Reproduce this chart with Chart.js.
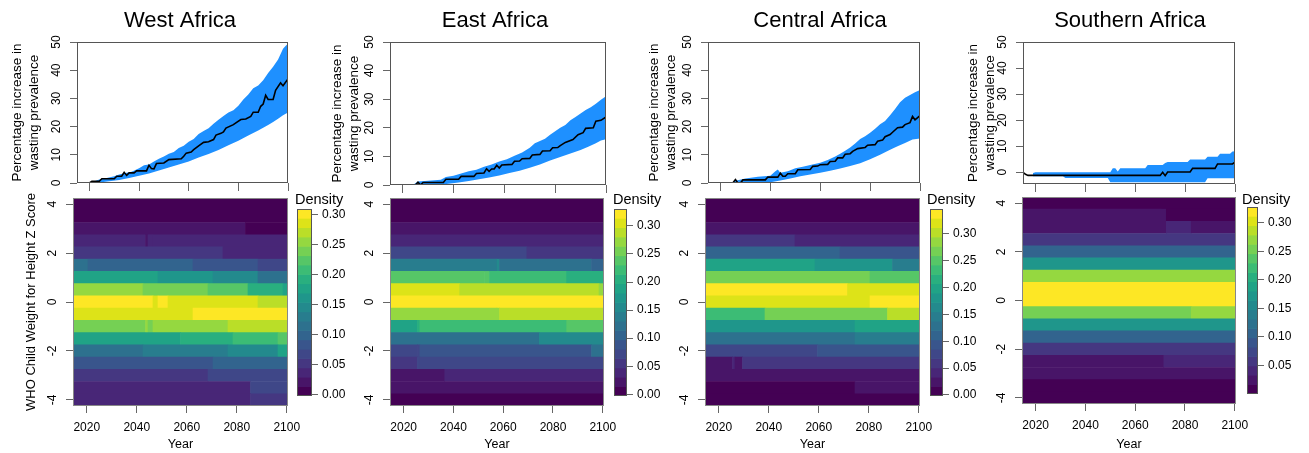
<!DOCTYPE html>
<html lang="en">
<head>
  <meta charset="UTF-8" />
  <title>Wasting prevalence and WHZ density by African region</title>
  <script src="https://cdn.jsdelivr.net/npm/chart.js"></script>
  <style>
    body { margin: 0; background: #fff; }
    #wrap { position: relative; width: 1309px; height: 453px; overflow: hidden; }
    #wrap canvas { position: absolute; }
  </style>
</head>
<body>
  <div id="wrap"></div>

  <script>
    // ---------- data ----------
    const regions = ['West Africa', 'East Africa', 'Central Africa', 'Southern Africa'];
    const yearTicks = [2020, 2040, 2060, 2080, 2100];
    const pctTicks = [0, 10, 20, 30, 40, 50];
    const zTicks = [-4, -2, 0, 2, 4];
    const zRows = [4, 3.5, 3, 2.5, 2, 1.5, 1, 0.5, 0, -0.5, -1, -1.5, -2, -2.5, -3, -3.5, -4];
    const heatYears = [2015, 2100];

    // percentage increase in wasting prevalence: [year, value]
    const westMid = [[2015,0],[2020,0],[2021,0.6],[2024,0.6],[2025,1.5],[2030,1.5],[2031,2.4],[2033,2.4],[2034,3.8],[2035,2.7],[2036,3.6],[2038,3.6],[2039,4.3],[2043,4.3],[2044,6.3],[2045,5.1],[2046,5.0],[2047,6.9],[2050,7.1],[2052,8.3],[2057,8.6],[2058,9.5],[2059,10.6],[2061,11.0],[2062,11.8],[2064,13.2],[2066,14.4],[2068,14.6],[2070,15.4],[2071,17.0],[2073,17.6],[2074,18.1],[2075,19.5],[2078,20.7],[2079,21.3],[2081,22.5],[2083,22.7],[2085,23.6],[2086,25.1],[2088,25.1],[2089,27.2],[2090,28.0],[2091,31.1],[2092,29.6],[2094,29.6],[2095,32.9],[2097,35.5],[2098,34.5],[2100,36.9]];
    const westHigh = [[2020,0],[2022,0.6],[2024,1.2],[2027,1.8],[2030,2.4],[2032,3.0],[2035,3.6],[2037,4.0],[2040,5.2],[2042,6.3],[2044,6.6],[2046,7.6],[2048,8.6],[2050,9.4],[2052,10.4],[2054,11.0],[2056,12.4],[2058,13.2],[2060,14.6],[2062,15.6],[2064,17.4],[2066,18.4],[2068,19.4],[2070,21.0],[2072,22.4],[2074,23.8],[2076,25.0],[2078,25.8],[2080,27.4],[2082,29.6],[2084,31.4],[2086,33.6],[2088,34.6],[2090,36.4],[2092,39.0],[2094,41.2],[2096,43.8],[2098,47.6],[2099,48.6],[2100,49.4]];
    const westLow = [[2020,0],[2024,0.2],[2028,0.6],[2032,1.1],[2036,1.8],[2040,2.6],[2044,3.4],[2048,4.4],[2052,5.5],[2056,6.6],[2060,7.6],[2064,9.0],[2068,10.3],[2072,11.7],[2076,13.4],[2080,15.0],[2084,16.8],[2088,18.6],[2090,19.6],[2092,20.6],[2094,21.6],[2096,22.8],[2098,24.0],[2100,25.0]];

    const eastMid = [[2015,0],[2025,0],[2026,1.0],[2027,0],[2028,0.9],[2036,0.9],[2037,2.0],[2042,2.0],[2043,3.0],[2048,3.0],[2049,4.0],[2052,4.2],[2053,5.7],[2054,4.8],[2055,5.6],[2056,5.6],[2057,6.9],[2058,5.9],[2059,7.0],[2063,7.2],[2064,8.3],[2066,8.4],[2067,9.2],[2070,9.3],[2071,10.5],[2074,10.7],[2075,11.9],[2078,12.0],[2079,13.0],[2081,13.1],[2082,13.8],[2084,14.9],[2087,15.9],[2089,17.6],[2091,18.3],[2092,19.8],[2095,20.0],[2096,22.3],[2098,22.6],[2100,23.8]];
    const eastHigh = [[2024,0],[2026,1.2],[2030,1.5],[2035,1.8],[2037,2.8],[2040,3.2],[2043,4.0],[2046,4.8],[2049,5.3],[2052,6.4],[2055,7.2],[2058,8.2],[2061,9.0],[2064,10.2],[2067,11.4],[2070,13.0],[2072,14.6],[2074,15.4],[2076,16.2],[2078,17.6],[2080,18.8],[2082,20.0],[2084,21.0],[2086,22.6],[2088,23.8],[2090,25.0],[2092,26.2],[2094,27.2],[2096,28.4],[2098,29.8],[2100,31.0]];
    const eastLow = [[2024,0],[2034,0],[2038,0.4],[2042,0.9],[2046,1.4],[2050,2.0],[2054,2.6],[2058,3.3],[2062,4.2],[2066,5.0],[2070,6.0],[2074,7.2],[2078,8.6],[2082,9.8],[2086,11.0],[2090,12.2],[2093,13.4],[2096,14.6],[2098,15.6],[2100,16.0]];

    const centralMid = [[2015,0],[2024,0],[2025,0.1],[2026,1.2],[2027,0],[2028,0],[2029,1.1],[2038,1.1],[2039,2.1],[2043,2.1],[2044,3.5],[2045,2.4],[2046,2.4],[2047,3.3],[2050,3.3],[2051,4.7],[2056,4.8],[2057,5.9],[2059,6.0],[2060,6.5],[2063,6.6],[2064,7.6],[2066,7.7],[2067,8.9],[2069,8.9],[2070,10.2],[2072,10.4],[2073,11.2],[2075,12.2],[2078,12.6],[2079,13.4],[2082,13.6],[2083,14.8],[2085,15.2],[2086,16.4],[2088,17.2],[2089,18.0],[2091,19.6],[2093,19.8],[2094,20.7],[2096,21.4],[2097,23.6],[2098,22.4],[2100,23.9]];
    const centralHigh = [[2024,0],[2026,0.8],[2030,1.6],[2035,2.2],[2040,2.6],[2042,4.2],[2043,4.8],[2044,3.6],[2047,4.2],[2050,5.2],[2053,5.8],[2056,6.4],[2060,7.2],[2063,8.2],[2066,9.4],[2068,10.4],[2070,11.4],[2072,12.6],[2074,14.0],[2076,15.6],[2078,16.6],[2080,17.8],[2082,19.2],[2084,20.8],[2086,22.0],[2088,24.0],[2090,26.2],[2092,28.6],[2094,30.2],[2096,31.2],[2098,32.2],[2100,33.0]];
    const centralLow = [[2024,0],[2036,0],[2040,0.3],[2044,0.9],[2048,1.6],[2052,2.4],[2056,3.0],[2060,3.6],[2064,4.3],[2068,5.1],[2072,6.0],[2076,7.0],[2080,8.4],[2084,10.0],[2088,11.8],[2091,13.0],[2094,14.2],[2097,15.4],[2100,15.8]];

    const southMid = [[2015,0],[2016,-0.8],[2017,-1.2],[2070,-1.2],[2071,0],[2072,-1.3],[2073,0.1],[2082,0.1],[2083,1.5],[2092,1.5],[2093,3.2],[2099,3.2],[2100,3.9]];
    const southHigh = [[2019,-0.3],[2020,0],[2050,0],[2051,1.5],[2052,1.5],[2053,0.3],[2054,1.5],[2064,1.5],[2065,2.8],[2071,2.8],[2072,3.6],[2073,3.9],[2081,3.9],[2082,4.9],[2088,4.9],[2089,6.0],[2093,6.0],[2094,7.1],[2098,7.1],[2099,8.0],[2100,8.1]];
    const southLow = [[2019,-1.5],[2031,-1.5],[2032,-2.2],[2049,-2.2],[2050,-3.8],[2088,-3.8],[2089,-2.3],[2100,-2.3]];

    const pctMin = [0, 0, 0, -4.5];

    // density of WHZ, one list per row of zRows: [first year, density]
    const westHeat = [
      [[2015,.008]],
      [[2015,.010]],
      [[2015,.023],[2084,.008]],
      [[2015,.039],[2044,.027],[2045,.039],[2047,.030]],
      [[2015,.054],[2075,.039]],
      [[2015,.116],[2021,.101],[2063,.085],[2089,.070]],
      [[2015,.178],[2049,.163],[2071,.150],[2089,.120]],
      [[2015,.256],[2043,.240],[2069,.225],[2085,.194],[2099,.178]],
      [[2015,.302],[2047,.287],[2049,.302],[2053,.287],[2089,.271]],
      [[2015,.287],[2063,.302]],
      [[2015,.240],[2044,.256],[2045,.240],[2047,.256],[2077,.271]],
      [[2015,.178],[2058,.194],[2079,.209],[2097,.225]],
      [[2015,.120],[2043,.132],[2077,.150],[2097,.178]],
      [[2015,.085],[2071,.101]],
      [[2015,.054],[2069,.070]],
      [[2015,.039],[2086,.060]],
      [[2015,.030],[2086,.054]]
    ];
    const eastHeat = [
      [[2015,.008]],
      [[2015,.010]],
      [[2015,.025]],
      [[2015,.041]],
      [[2015,.074],[2070,.058]],
      [[2015,.140],[2058,.150],[2059,.124],[2096,.107]],
      [[2015,.239],[2053,.231],[2055,.223],[2086,.206]],
      [[2015,.305],[2043,.289],[2099,.272]],
      [[2015,.322]],
      [[2015,.272],[2058,.280],[2059,.289]],
      [[2015,.190],[2026,.206],[2027,.223],[2086,.239]],
      [[2015,.124],[2075,.150]],
      [[2015,.074],[2026,.078],[2027,.091],[2096,.124]],
      [[2015,.058],[2026,.066],[2027,.074]],
      [[2015,.025],[2037,.041]],
      [[2015,.025]],
      [[2015,.008]]
    ];
    const centralHeat = [
      [[2015,.009]],
      [[2015,.012]],
      [[2015,.026]],
      [[2015,.060],[2051,.043]],
      [[2015,.112],[2069,.095]],
      [[2015,.198],[2059,.181],[2090,.150]],
      [[2015,.267],[2081,.250]],
      [[2015,.336],[2072,.319]],
      [[2015,.319],[2081,.336]],
      [[2015,.240],[2039,.267],[2088,.295]],
      [[2015,.181],[2075,.198]],
      [[2015,.129],[2075,.147]],
      [[2015,.078],[2060,.095]],
      [[2015,.026],[2026,.043],[2027,.026],[2030,.055]],
      [[2015,.026]],
      [[2015,.009],[2075,.026]],
      [[2015,.009]]
    ];
    const southHeat = [
      [[2015,.008]],
      [[2015,.027],[2071,.020],[2073,.008]],
      [[2015,.027],[2073,.044],[2083,.030]],
      [[2015,.060]],
      [[2015,.109]],
      [[2015,.174]],
      [[2015,.271]],
      [[2015,.320]],
      [[2015,.320]],
      [[2015,.255],[2083,.271]],
      [[2015,.174]],
      [[2015,.109]],
      [[2015,.060]],
      [[2015,.027],[2072,.044]],
      [[2015,.027]],
      [[2015,.011]],
      [[2015,.011]]
    ];

    // colour key range and ticks
    const westLim = [-0.003, 0.309];
    const eastLim = [-0.003, 0.330];
    const centralLim = [-0.002, 0.346];
    const southLim = [0, 0.328];
    const densTicks = [0, 0.05, 0.10, 0.15, 0.20, 0.25, 0.30];
    const densTicksSouth = [0.05, 0.10, 0.15, 0.20, 0.25, 0.30];

    const viridis = ['#440154', '#481568', '#482677', '#453781', '#3F4788', '#39558C', '#32648E', '#2D718E', '#287D8E', '#238A8D',
                     '#1F968B', '#20A386', '#29AF7F', '#3CBC75', '#56C667', '#75D054', '#95D840', '#BADE28', '#DDE318', '#FDE725'];

    // ---------- page layout (pixel boxes: left, right, top, bottom) ----------
    const layout = [
      { cx: 180,  yt: 0,   top: [77, 288, 42, 183],    heat: [73, 288, 198, 406],    bar: [297, 312, 209, 396],    dens: 295 },
      { cx: 495,  yt: 320, top: [390, 606, 42, 185],   heat: [390, 604, 198, 406],   bar: [614, 627, 209, 396],    dens: 613 },
      { cx: 820,  yt: 637, top: [708, 920, 42, 183],   heat: [705, 920, 198, 406],   bar: [930, 943, 209, 396],    dens: 927 },
      { cx: 1130, yt: 956, top: [1023, 1235, 42, 184], heat: [1022, 1236, 197, 404], bar: [1247, 1258, 207, 394],  dens: 1242 }
    ];

    const FONT = "'Liberation Sans', Arial, Helvetica, sans-serif";
    const GREY = '#666';
    Chart.defaults.font.family = FONT;
    Chart.defaults.color = '#000';

    const wrap = document.getElementById('wrap');
    function canvasAt(x, y, w, h) {
      const c = document.createElement('canvas');
      c.width = w;
      c.height = h;
      c.style.left = x + 'px';
      c.style.top = y + 'px';
      c.style.width = w + 'px';
      c.style.height = h + 'px';
      wrap.appendChild(c);
      return c;
    }

    const fixTicks = vals => scale => { scale.ticks = vals.map(v => ({ value: v })); };

    function colorOf(d, lim) {
      const k = Math.floor((d - lim[0]) / (lim[1] - lim[0]) * viridis.length);
      return viridis[Math.max(0, Math.min(viridis.length - 1, k))];
    }

    // box round the plot region
    const frame = {
      id: 'frame',
      afterDraw(chart, args, opts) {
        const { ctx, chartArea: a } = chart;
        ctx.save();
        ctx.strokeStyle = opts.color || GREY;
        ctx.lineWidth = 1;
        ctx.strokeRect(Math.round(a.left) + 0.5, Math.round(a.top) + 0.5, Math.round(a.width) - 1, Math.round(a.height) - 1);
        ctx.restore();
      }
    };

    // y tick labels written along the axis, as R does
    const rotY = {
      id: 'rotY',
      afterDraw(chart, args, opts) {
        const s = chart.scales.y;
        const ctx = chart.ctx;
        ctx.save();
        ctx.fillStyle = '#000';
        ctx.font = '12px ' + FONT;
        ctx.textAlign = 'center';
        ctx.textBaseline = 'middle';
        s.ticks.forEach(t => {
          ctx.save();
          ctx.translate(chart.chartArea.left - opts.gap, s.getPixelForValue(t.value));
          ctx.rotate(-Math.PI / 2);
          ctx.fillText(String(t.value), 0, 0);
          ctx.restore();
        });
        ctx.restore();
      }
    };

    const noLegend = { legend: { display: false }, tooltip: { enabled: false } };
    const padAxis = (pos, width) => ({
      type: 'linear', position: pos, display: true,
      grid: { display: false }, border: { display: false }, ticks: { display: false },
      afterFit: s => { s.width = width; }
    });

    function lineChart(i, mid, high, low) {
      const L = layout[i];
      const [bl, br, bt, bb] = L.top;
      const x0 = L.yt;
      const w = 2 * (L.cx - x0);
      const h = bb + 10;
      const pts = a => a.map(([x, y]) => ({ x, y }));
      new Chart(canvasAt(x0, 0, w, h), {
        type: 'line',
        data: {
          datasets: [
            { data: pts(mid), borderColor: '#000', borderWidth: 1.6, pointRadius: 0, fill: false },
            { data: pts(high), borderWidth: 0, borderColor: 'rgba(0,0,0,0)', pointRadius: 0, backgroundColor: '#1E90FF', fill: '+1' },
            { data: pts(low), borderWidth: 0, borderColor: 'rgba(0,0,0,0)', pointRadius: 0, fill: false }
          ]
        },
        options: {
          responsive: false, animation: false, devicePixelRatio: 1,
          layout: { padding: 0 },
          plugins: {
            ...noLegend,
            title: { display: true, text: regions[i], color: '#000', font: { size: 22, weight: 'normal' }, padding: { top: 8, bottom: bt - 8 - 26.4 } },
            frame: { color: '#555' },
            rotY: { gap: 20 }
          },
          scales: {
            x: {
              type: 'linear', min: 2015, max: 2100,
              afterBuildTicks: fixTicks(yearTicks),
              afterFit: s => { s.height = h - bb; },
              grid: { drawOnChartArea: false, tickLength: 8, color: GREY },
              border: { display: false }, ticks: { display: false }
            },
            y: {
              type: 'linear', min: pctMin[i], max: 50,
              afterBuildTicks: fixTicks(pctTicks),
              afterFit: s => { s.width = bl - x0; },
              grid: { drawOnChartArea: false, tickLength: 7, color: GREY },
              border: { display: false }, ticks: { display: false },
              title: {
                display: true, text: ['Percentage increase in', 'wasting prevalence'], color: '#000',
                font: { size: 13.5, lineHeight: 1.26 }, padding: { top: 8.8, bottom: 0 }
              }
            },
            pad: padAxis('right', x0 + w - br)
          }
        },
        plugins: [frame, rotY]
      });
    }

    function heatChart(i, rows, lim) {
      const L = layout[i];
      const [bl, br, bt, bb] = L.heat;
      const top = 190;
      const x0 = i === 0 ? 0 : bl - 50;
      const w = br + 24 - x0;
      const h = 453 - top;
      const segs = [];
      rows.forEach((row, r) => row.forEach(([start, d], k) => {
        const end = k + 1 < row.length ? row[k + 1][0] : heatYears[1] + 1;
        segs.push({ x: [start - 0.5, end - 0.5], y: zRows[r], d });
      }));
      new Chart(canvasAt(x0, top, w, h), {
        type: 'bar',
        data: {
          datasets: [{
            data: segs,
            backgroundColor: segs.map(s => colorOf(s.d, lim)),
            borderWidth: 0, barPercentage: 1, categoryPercentage: 1
          }]
        },
        options: {
          indexAxis: 'y',
          responsive: false, animation: false, devicePixelRatio: 1,
          layout: { padding: { top: bt - top } },
          plugins: { ...noLegend, frame: { color: '#888' }, rotY: { gap: 20 } },
          scales: {
            x: {
              type: 'linear', min: heatYears[0] - 0.5, max: heatYears[1] + 0.5, beginAtZero: false,
              afterBuildTicks: fixTicks(yearTicks),
              afterFit: s => { s.height = 453 - bb; },
              grid: { drawOnChartArea: false, tickLength: 7, color: GREY },
              border: { display: false },
              ticks: { color: '#000', font: { size: 12 }, padding: 7, maxRotation: 0, callback: v => String(v) },
              title: { display: true, text: 'Year', color: '#000', font: { size: 12.5 }, padding: { top: 0, bottom: 0.8 } }
            },
            y: {
              type: 'linear', min: -4.25, max: 4.25, offset: false,
              afterBuildTicks: fixTicks(zTicks),
              afterFit: s => { s.width = bl - x0; },
              grid: { drawOnChartArea: false, offset: false, tickLength: 7, color: GREY },
              border: { display: false }, ticks: { display: false },
              title: {
                display: i === 0, text: 'WHO Child Weight for Height Z Score', color: '#000',
                font: { size: 13 }, padding: { top: 24, bottom: 0 }
              }
            },
            pad: padAxis('right', x0 + w - br)
          }
        },
        plugins: [frame, rotY]
      });
    }

    function keyChart(i, lim, ticks) {
      const [bl, br, bt, bb] = layout[i].bar;
      const x0 = layout[i].dens;
      const top = 185;
      const w = br + 40 - x0;
      const h = bb + 15 - top;
      const step = (lim[1] - lim[0]) / viridis.length;
      const blocks = viridis.map((c, k) => ({ x: 'k', y: [lim[0] + k * step, lim[0] + (k + 1) * step] }));
      new Chart(canvasAt(x0, top, w, h), {
        type: 'bar',
        data: {
          labels: ['k'],
          datasets: [{ data: blocks, backgroundColor: viridis, borderWidth: 0, barPercentage: 1, categoryPercentage: 1 }]
        },
        options: {
          responsive: false, animation: false, devicePixelRatio: 1,
          layout: { padding: 0 },
          plugins: {
            ...noLegend,
            title: { display: true, text: 'Density', align: 'start', color: '#000', font: { size: 14.5, weight: 'normal' }, padding: { top: 6.3, bottom: bt - top - 6.3 - 17.4 } },
            frame: { color: '#555' }
          },
          scales: {
            x: {
              display: true, grid: { display: false }, border: { display: false }, ticks: { display: false },
              afterFit: s => { s.height = h - (bb - top); }
            },
            y: {
              type: 'linear', position: 'right', min: lim[0], max: lim[1], beginAtZero: false,
              afterBuildTicks: fixTicks(ticks),
              afterFit: s => { s.width = w - (br - x0); },
              grid: { drawOnChartArea: false, tickLength: 6, color: GREY },
              border: { display: false },
              ticks: { color: '#000', font: { size: 12 }, padding: 4, callback: v => v.toFixed(2) }
            },
            pad: padAxis('left', bl - x0)
          }
        },
        plugins: [frame]
      });
    }

    lineChart(0, westMid, westHigh, westLow);
    lineChart(1, eastMid, eastHigh, eastLow);
    lineChart(2, centralMid, centralHigh, centralLow);
    lineChart(3, southMid, southHigh, southLow);

    heatChart(0, westHeat, westLim);
    heatChart(1, eastHeat, eastLim);
    heatChart(2, centralHeat, centralLim);
    heatChart(3, southHeat, southLim);

    keyChart(0, westLim, densTicks);
    keyChart(1, eastLim, densTicks);
    keyChart(2, centralLim, densTicks);
    keyChart(3, southLim, densTicksSouth);
  </script>
</body>
</html>
